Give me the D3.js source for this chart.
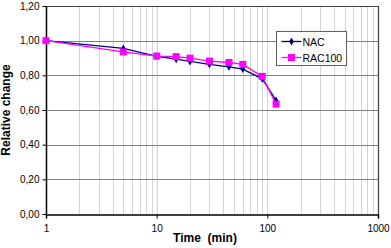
<!DOCTYPE html>
<html>
<head>
<meta charset="utf-8">
<style>
  body { margin: 0; background: #fff; }
  text { font-family: "Liberation Sans", Arial, sans-serif; }
</style>
</head>
<body>
<svg width="391" height="248"></svg>
<script src="https://d3js.org/d3.v7.min.js"></script>
<script>
var times = [1, 5, 10, 15, 20, 30, 45, 60, 90, 120];
var nac = [1.00, 0.955, 0.91, 0.893, 0.88, 0.863, 0.849, 0.836, 0.78, 0.655];
var rac100 = [1.00, 0.935, 0.911, 0.908, 0.899, 0.882, 0.874, 0.863, 0.794, 0.634];
var yTicks = [0, 0.2, 0.4, 0.6, 0.8, 1.0, 1.2];
var xTicks = [1, 10, 100, 1000];

var svg = d3.select("svg");
var padL = 46, padR = 378, padT = 6, padB = 214;

var x = d3.scaleLog().domain([1, 1000]).range([padL, padR]);
var y = d3.scaleLinear().domain([0, 1.2]).range([padB, padT]);

// minor vertical grid
var minor = [];
[1, 10, 100].forEach(function(d) {
  for (var k = 2; k <= 10; k++) minor.push(d * k);
});
minor = minor.filter(function(v) { return v < 1000; });

svg.append("g").selectAll("line").data(minor).enter().append("line")
  .attr("x1", function(d) { return Math.round(x(d)) + 0.5; })
  .attr("x2", function(d) { return Math.round(x(d)) + 0.5; })
  .attr("y1", padT).attr("y2", padB)
  .attr("stroke", "#d4d4d4").attr("stroke-width", 1);

// horizontal grid
svg.append("g").selectAll("line").data(yTicks.slice(1, -1)).enter().append("line")
  .attr("x1", padL).attr("x2", padR)
  .attr("y1", function(d) { return Math.round(y(d)) + 0.5; })
  .attr("y2", function(d) { return Math.round(y(d)) + 0.5; })
  .attr("stroke", "#808080").attr("stroke-width", 1);

// top and right border
svg.append("path")
  .attr("d", "M" + padL + "," + (padT + 0.5) + "H" + (padR + 0.5) + "V" + padB)
  .attr("fill", "none").attr("stroke", "#404040").attr("stroke-width", 1.2);

// axes
var yAxis = d3.axisLeft(y).tickValues(yTicks).tickSize(4).tickPadding(3)
  .tickFormat(function(d) { return d3.format(".2f")(d).replace(".", ","); });
var gy = svg.append("g").attr("transform", "translate(" + (padL + 0.5) + ",0)").call(yAxis);
var xAxis = d3.axisBottom(x).tickValues(xTicks).tickSize(4).tickPadding(6)
  .tickFormat(d3.format("d"));
var gx = svg.append("g").attr("transform", "translate(0," + (padB + 0.5) + ")").call(xAxis);

[gx, gy].forEach(function(g) {
  g.select(".domain").attr("stroke", "#000").attr("stroke-width", 1.5);
  g.selectAll(".tick line").attr("stroke", "#000");
  g.selectAll(".tick text").attr("font-size", 10).attr("fill", "#000")
    .style("font-family", "'Liberation Sans', Arial, sans-serif");
});
gy.select(".domain").attr("d", "M0," + padT + "V" + padB);

// titles
svg.append("text").attr("x", 205).attr("y", 242).attr("text-anchor", "middle")
  .attr("font-size", 12).attr("font-weight", "bold").attr("xml:space", "preserve")
  .text("Time  (min)");
svg.append("text").attr("transform", "translate(10," + ((padT + padB) / 2) + ") rotate(-90)")
  .attr("text-anchor", "middle").attr("font-size", 12).attr("font-weight", "bold")
  .text("Relative change");

// series
var line = d3.line().x(function(d) { return x(d[0]); }).y(function(d) { return y(d[1]); });
var nacData = times.map(function(t, i) { return [t, nac[i]]; });
var racData = times.map(function(t, i) { return [t, rac100[i]]; });

svg.append("path").datum(nacData).attr("d", line)
  .attr("fill", "none").attr("stroke", "#000080").attr("stroke-width", 1.3);
svg.append("path").datum(racData).attr("d", line)
  .attr("fill", "none").attr("stroke", "#ff00ff").attr("stroke-width", 1.3);

svg.append("g").selectAll("path").data(nacData).enter().append("path")
  .attr("transform", function(d) { return "translate(" + x(d[0]) + "," + y(d[1]) + ")"; })
  .attr("d", d3.symbol().type(d3.symbolDiamond).size(18))
  .attr("fill", "#000080");
svg.append("g").selectAll("rect").data(racData).enter().append("rect")
  .attr("x", function(d) { return x(d[0]) - 3.5; })
  .attr("y", function(d) { return y(d[1]) - 3.5; })
  .attr("width", 7).attr("height", 7)
  .attr("fill", "#ff00ff");

// legend
var lg = svg.append("g").attr("transform", "translate(276.5,31.5)");
lg.append("rect").attr("width", 70).attr("height", 34)
  .attr("fill", "#fff").attr("stroke", "#606060");
var items = [["NAC", "#000080", "d"], ["RAC100", "#ff00ff", "s"]];
items.forEach(function(it, i) {
  var cy = 10 + i * 16;
  lg.append("line").attr("x1", 5).attr("x2", 25).attr("y1", cy).attr("y2", cy)
    .attr("stroke", it[1]).attr("stroke-width", 1.3);
  if (it[2] === "d") {
    lg.append("path").attr("transform", "translate(15," + cy + ")")
      .attr("d", d3.symbol().type(d3.symbolDiamond).size(18)).attr("fill", it[1]);
  } else {
    lg.append("rect").attr("x", 11.5).attr("y", cy - 3.5).attr("width", 7).attr("height", 7)
      .attr("fill", it[1]);
  }
  lg.append("text").attr("x", 26).attr("y", cy + 4).attr("font-size", 10.5)
    .attr("fill", "#000").text(it[0]);
});
</script>
</body>
</html>
